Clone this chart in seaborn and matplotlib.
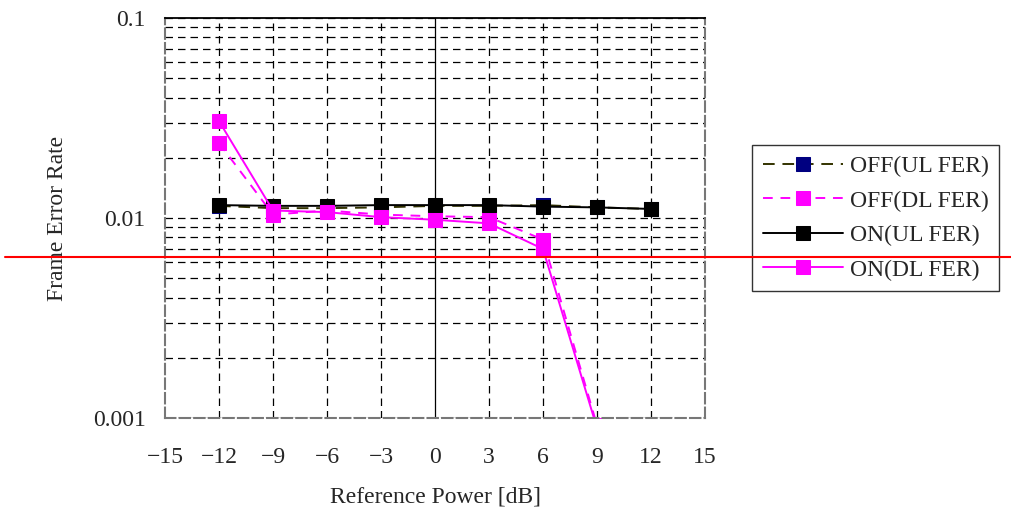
import numpy as np
import pandas as pd
import matplotlib
matplotlib.use("Agg")
import matplotlib.pyplot as plt
import seaborn as sns

# ---- data ----
ref_power = [-12, -9, -6, -3, 0, 3, 6, 9, 12]
off_ul = [0.0115, 0.0112, 0.0112, 0.0113, 0.0115, 0.0115, 0.0116, 0.0113, 0.0111]
off_dl = [0.0237, 0.0104, 0.0109, 0.0104, 0.0102, 0.0101, 0.0078, 0.00092, np.nan]
on_ul = [0.0116, 0.0115, 0.0115, 0.0116, 0.0116, 0.0116, 0.0114, 0.0113, 0.0111]
on_dl = [0.0305, 0.0109, 0.0107, 0.0101, 0.0098, 0.0094, 0.0070, 0.00089, np.nan]
labels = ["OFF(UL FER)", "OFF(DL FER)", "ON(UL FER)", "ON(DL FER)"]
x_ticks = [-15, -12, -9, -6, -3, 0, 3, 6, 9, 12, 15]
y_ticks = [0.001, 0.01, 0.1]
y_ticklabels = ["0.001", "0.01", "0.1"]
red_marker_level = 0.0064

sns.set_theme(style="white")
plt.rcParams["font.family"] = ["Liberation Serif", "DejaVu Serif"]

fig = plt.figure(figsize=(10.11, 5.13), dpi=100)
ax = fig.add_axes([165 / 1011, 1 - 418 / 513, 540 / 1011, 400 / 513])

series = [
    (off_ul, dict(color="#333300", linestyle=(0, (6, 4)), markerfacecolor="#000080", markeredgecolor="#000080")),
    (off_dl, dict(color="#ff00ff", linestyle=(0, (5, 4)), markerfacecolor="#ff00ff", markeredgecolor="#ff00ff")),
    (on_ul, dict(color="black", linestyle="-", markerfacecolor="black", markeredgecolor="black")),
    (on_dl, dict(color="#ff00ff", linestyle="-", markerfacecolor="#ff00ff", markeredgecolor="#ff00ff")),
]
for (vals, style), lab in zip(series, labels):
    df = pd.DataFrame({"x": ref_power, "y": vals})
    sns.lineplot(data=df, x="x", y="y", ax=ax, label=lab, marker="s", markersize=9.5,
                 linewidth=1.4, sort=False, **style)

ax.set_yscale("log")
ax.set_xlim(-15, 15)
ax.set_ylim(0.001, 0.1)
ax.set_xticks(x_ticks)
ax.set_xticklabels([("\u2212" + str(abs(v))) if v < 0 else str(v) for v in x_ticks], fontsize=17)
ax.set_yticks(y_ticks)
ax.set_yticklabels(y_ticklabels, fontsize=17)
ax.minorticks_on()
ax.tick_params(axis="x", which="minor", bottom=False)
ax.yaxis.set_minor_formatter(matplotlib.ticker.NullFormatter())
ax.tick_params(axis="y", which="both", length=0, pad=14)
ax.tick_params(axis="x", which="both", length=0, pad=21)

# grid
for xv in x_ticks[1:-1]:
    if xv == 0:
        ax.axvline(xv, color="black", lw=0.9, zorder=0.5)
    else:
        ax.axvline(xv, color="black", lw=0.9, linestyle=(0, (6, 4)), zorder=0.5)
ax.grid(True, which="both", axis="y", color="black", lw=0.9, linestyle=(0, (6, 4)))
ax.set_axisbelow(True)

for s in ["left", "right", "bottom"]:
    ax.spines[s].set_color("#777777")
    ax.spines[s].set_linestyle((0, (5, 2)))
    ax.spines[s].set_linewidth(1.5)
ax.spines["top"].set_color("black")
ax.spines["top"].set_linewidth(1.3)

ax.set_xlabel("Reference Power [dB]", fontsize=17, labelpad=13)
ax.set_ylabel("Frame Error Rate", fontsize=17, labelpad=18)

ax.axhline(red_marker_level, xmin=-0.296, xmax=1.6, color="red", lw=1.5, clip_on=False, zorder=10)

leg = ax.legend(loc="upper left", bbox_to_anchor=(752 / 1011, 1 - 145 / 513),
                bbox_transform=fig.transFigure, borderaxespad=0, fontsize=17,
                handlelength=3.4, frameon=True, fancybox=False, edgecolor="black",
                labelspacing=0.55, handletextpad=0.3, borderpad=0.45)
leg.get_frame().set_linewidth(1.0)

fig.savefig("out.png", dpi=100)
